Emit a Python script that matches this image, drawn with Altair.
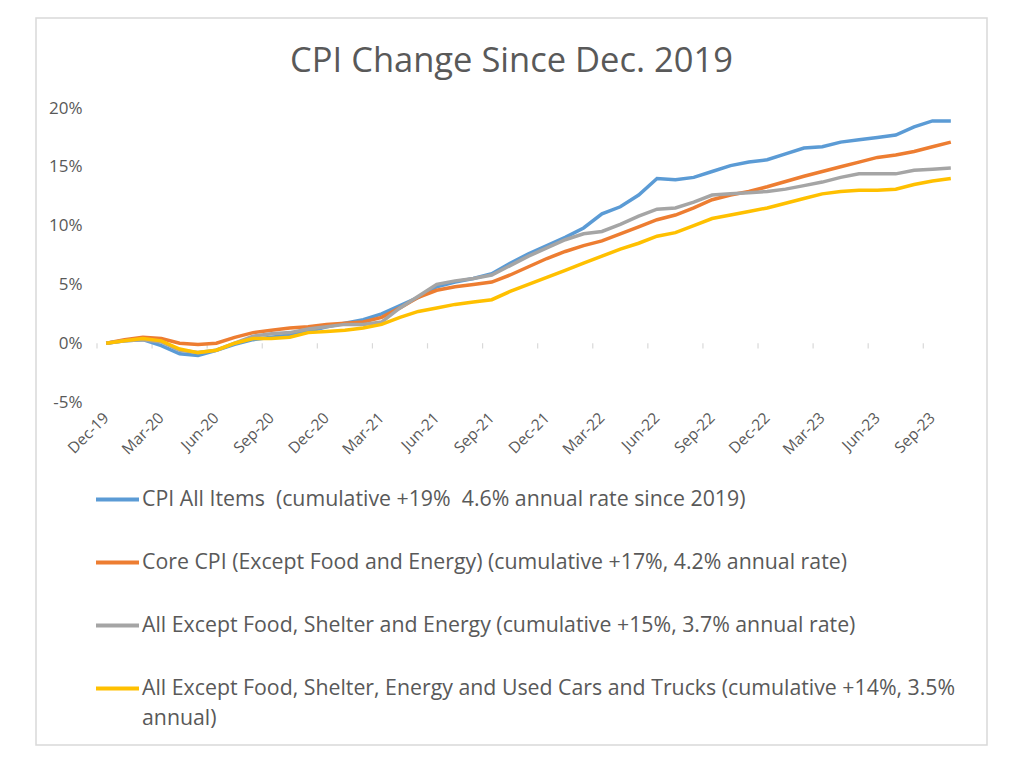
import altair as alt
import pandas as pd

months = ["Dec-19","Jan-20","Feb-20","Mar-20","Apr-20","May-20","Jun-20","Jul-20","Aug-20","Sep-20","Oct-20","Nov-20",
          "Dec-20","Jan-21","Feb-21","Mar-21","Apr-21","May-21","Jun-21","Jul-21","Aug-21","Sep-21","Oct-21","Nov-21",
          "Dec-21","Jan-22","Feb-22","Mar-22","Apr-22","May-22","Jun-22","Jul-22","Aug-22","Sep-22","Oct-22","Nov-22",
          "Dec-22","Jan-23","Feb-23","Mar-23","Apr-23","May-23","Jun-23","Jul-23","Aug-23","Sep-23","Oct-23"]

cpi_all = [0.0,0.2,0.3,-0.2,-0.9,-1.05,-0.6,-0.1,0.3,0.5,0.7,1.0,
           1.4,1.7,2.0,2.5,3.2,3.9,4.8,5.2,5.5,5.9,6.8,7.6,
           8.3,9.0,9.8,11.0,11.6,12.6,14.0,13.9,14.1,14.6,15.1,15.4,
           15.6,16.1,16.6,16.7,17.1,17.3,17.5,17.7,18.4,18.9,18.9]
core = [0.0,0.3,0.5,0.4,0.0,-0.1,0.0,0.5,0.9,1.1,1.3,1.4,
        1.6,1.7,1.8,2.2,3.0,3.9,4.5,4.8,5.0,5.2,5.8,6.5,
        7.2,7.8,8.3,8.7,9.3,9.9,10.5,10.9,11.5,12.2,12.6,12.9,
        13.3,13.75,14.2,14.6,15.0,15.4,15.8,16.0,16.3,16.7,17.1]
ex_shelter = [0.0,0.2,0.3,0.1,-0.6,-0.8,-0.6,0.0,0.6,0.8,0.9,1.2,
              1.4,1.6,1.6,1.8,3.0,4.0,5.0,5.3,5.5,5.8,6.6,7.4,
              8.1,8.8,9.3,9.5,10.1,10.8,11.4,11.5,12.0,12.6,12.7,12.8,
              12.9,13.1,13.4,13.7,14.1,14.4,14.4,14.4,14.7,14.8,14.9]
ex_cars = [0.0,0.2,0.4,0.2,-0.5,-0.8,-0.6,0.0,0.4,0.4,0.5,0.9,
           1.0,1.1,1.3,1.6,2.2,2.7,3.0,3.3,3.5,3.7,4.4,5.0,
           5.6,6.2,6.8,7.4,8.0,8.5,9.1,9.4,10.0,10.6,10.9,11.2,
           11.5,11.9,12.3,12.7,12.9,13.0,13.0,13.1,13.5,13.8,14.0]

series_names = [
    "CPI All Items\u00a0 (cumulative +19%\u00a0 4.6% annual rate since 2019)",
    "Core CPI (Except Food and Energy) (cumulative +17%, 4.2% annual rate)",
    "All Except Food, Shelter and Energy (cumulative +15%, 3.7% annual rate)",
    "All Except Food, Shelter, Energy and Used Cars and Trucks (cumulative +14%, 3.5% annual)",
]
last_label_lines = ["All Except Food, Shelter, Energy and Used Cars and Trucks (cumulative +14%, 3.5%", "annual)"]
series_values = [cpi_all, core, ex_shelter, ex_cars]
colors = ["#5B9BD5", "#ED7D31", "#A5A5A5", "#FFC000"]

rows = []
for name, vals in zip(series_names, series_values):
    for m, v in zip(months, vals):
        rows.append({"month": m, "series": name, "value": v})
df = pd.DataFrame(rows)

tick_months = months[::3]
ticks_df = pd.DataFrame({"month": tick_months})

FONT = "Open Sans"
TEXT = "#595959"
GRID = "#D9D9D9"

xscale = alt.Scale(type="band", domain=months, paddingInner=0, paddingOuter=0)

wrap_label = ("datum.label == '" + series_names[3] + "' ? ['" + last_label_lines[0] + "', '"
              + last_label_lines[1] + "'] : datum.label")

lines = alt.Chart(df).mark_line(strokeWidth=3.5).encode(
    x=alt.X("month:O", scale=xscale, bandPosition=0.5,
            axis=alt.Axis(title=None, values=tick_months, labelAngle=-45, labelFontSize=15.5,
                          labelColor=TEXT, labelFont=FONT, ticks=False, domain=False, grid=False,
                          labelPadding=13)),
    y=alt.Y("value:Q", scale=alt.Scale(domain=[-5, 20], nice=False),
            axis=alt.Axis(title=None, values=[-5, 0, 5, 10, 15, 20], labelExpr="datum.value + '%'",
                          labelFontSize=17, labelColor=TEXT, labelFont=FONT, ticks=False, domain=False,
                          gridColor=GRID, gridWidth=1.2, labelPadding=15)),
    color=alt.Color("series:N", sort=series_names,
                    scale=alt.Scale(domain=series_names, range=colors),
                    legend=alt.Legend(title=None, orient="none", legendX=-3, legendY=368,
                                      direction="vertical", symbolType="stroke", symbolSize=1849,
                                      symbolStrokeWidth=4, labelFontSize=21.3, labelFont=FONT,
                                      labelColor=TEXT, labelLimit=950, rowPadding=29, labelOffset=1,
                                      padding=0, labelExpr=wrap_label)),
    order=alt.Order("series:N"),
)

tickmarks = alt.Chart(ticks_df).mark_rule(color=GRID, strokeWidth=1.2).encode(
    x=alt.X("month:O", scale=xscale, bandPosition=0),
    y=alt.datum(0),
    y2=alt.datum(-0.45),
)

frame = alt.Chart(pd.DataFrame({"k": [0]})).mark_rect(fill=None, stroke=GRID, strokeWidth=1.5).encode(
    x=alt.value(-61), x2=alt.value(890), y=alt.value(-90), y2=alt.value(637)
)

chart = alt.layer(frame, tickmarks, lines).properties(
    width=863, height=294,
    title=alt.TitleParams("CPI Change Since Dec. 2019", fontSize=34.5, font=FONT, color=TEXT,
                          fontWeight="normal", anchor="middle", dx=-17, offset=-89,
                          baseline="alphabetic", frame="group"),
    autosize=alt.AutoSizeParams(type="none"),
    padding={"left": 89, "top": 100, "right": 30, "bottom": 348},
).configure(
    view=alt.ViewConfig(stroke=None),
    style={"guide-label": {"lineHeight": 30}},
)

chart.save("out.html", embed_options={"renderer": "svg", "actions": False})
